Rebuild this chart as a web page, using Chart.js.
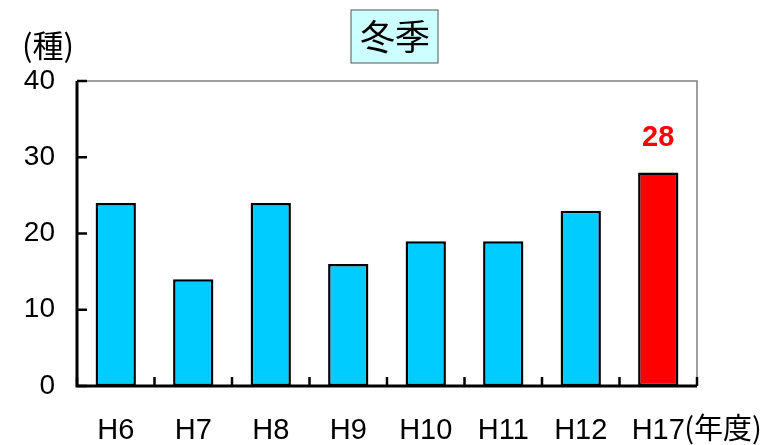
<!DOCTYPE html>
<html>
<head>
<meta charset="utf-8">
<script src="https://cdn.jsdelivr.net/npm/chart.js@4/dist/chart.umd.min.js"></script>
<style>
  html, body { margin: 0; padding: 0; background: #fff; }
  #wrap { width: 780px; height: 445px; }
</style>
</head>
<body>
<div id="wrap"><canvas id="chart" width="780" height="445"></canvas></div>
<script>
const categories = ["H6", "H7", "H8", "H9", "H10", "H11", "H12", "H17"];
const speciesCount = [24, 14, 24, 16, 19, 19, 23, 28];
const yTicks = [0, 10, 20, 30, 40];
const highlightIndex = 7;

const FONT = "'Liberation Sans', 'Noto Sans CJK JP', sans-serif";
const JP_FONT = "'Noto Sans CJK JP', sans-serif";

const barColors = speciesCount.map((v, i) => i === highlightIndex ? "#ff0000" : "#00ccff");

// frame, inside ticks, title box and extra texts
const decorations = {
  id: "decorations",
  afterDraw(chart) {
    const ctx = chart.ctx;
    const area = chart.chartArea;
    const xs = chart.scales.x;
    const ys = chart.scales.y;
    ctx.save();

    // gray top / right border
    ctx.strokeStyle = "#808080";
    ctx.lineWidth = 1.5;
    ctx.beginPath();
    ctx.moveTo(area.left, area.top);
    ctx.lineTo(area.right, area.top);
    ctx.lineTo(area.right, area.bottom);
    ctx.stroke();

    // black axes
    ctx.strokeStyle = "#000";
    ctx.lineWidth = 3;
    ctx.beginPath();
    ctx.moveTo(area.left, area.top);
    ctx.lineTo(area.left, area.bottom);
    ctx.lineTo(area.right, area.bottom);
    ctx.stroke();

    // y ticks (inside)
    ctx.lineWidth = 2.5;
    yTicks.forEach(t => {
      const y = ys.getPixelForValue(t);
      ctx.beginPath();
      ctx.moveTo(area.left, y);
      ctx.lineTo(area.left + 10, y);
      ctx.stroke();
    });
    // x ticks between categories (inside)
    for (let i = 0; i <= categories.length; i++) {
      const x = xs.getPixelForValue(i - 0.5);
      ctx.beginPath();
      ctx.moveTo(x, area.bottom);
      ctx.lineTo(x, area.bottom - 9);
      ctx.stroke();
    }

    // title box
    const cx = (area.left + area.right) / 2 + 7;
    ctx.fillStyle = "#ccffff";
    ctx.fillRect(cx - 43, 10, 87, 53);
    ctx.strokeStyle = "#555";
    ctx.lineWidth = 1;
    ctx.strokeRect(cx - 43, 10, 87, 53);
    ctx.fillStyle = "#000";
    ctx.font = "35px " + JP_FONT;
    ctx.textAlign = "center";
    ctx.textBaseline = "middle";
    ctx.fillText("冬季", cx + 1, 37);

    // unit labels
    ctx.font = "31px " + JP_FONT;
    ctx.textAlign = "left";
    ctx.fillText("(種)", 22, 45);
    const lastX = xs.getPixelForValue(categories.length - 1);
    ctx.font = "29px " + JP_FONT;
    ctx.fillText("(年度)", lastX + 26, 428);

    // value label on highlighted bar
    const bar = chart.getDatasetMeta(0).data[highlightIndex];
    ctx.fillStyle = "#ff0000";
    ctx.font = "bold 29px " + FONT;
    ctx.textAlign = "center";
    ctx.fillText(String(speciesCount[highlightIndex]), bar.x, bar.y - 35);

    ctx.restore();
  }
};

new Chart(document.getElementById("chart"), {
  type: "bar",
  data: {
    labels: categories,
    datasets: [{
      data: speciesCount,
      backgroundColor: barColors,
      borderColor: "#000",
      borderWidth: 2.5,
      borderSkipped: false,
      barPercentage: 0.52,
      categoryPercentage: 1.0
    }]
  },
  options: {
    responsive: false,
    animation: false,
    layout: { padding: { top: 81, right: 83, left: 0, bottom: 0 } },
    plugins: {
      legend: { display: false },
      tooltip: { enabled: false },
      title: { display: false }
    },
    scales: {
      x: {
        grid: { display: false, drawTicks: false },
        border: { display: false },
        ticks: {
          color: "#000",
          font: { family: FONT, size: 29 },
          padding: 28,
          maxRotation: 0
        },
        afterFit(scale) { scale.height = 59; }
      },
      y: {
        min: 0,
        max: 40,
        grid: { display: false, drawTicks: false },
        border: { display: false },
        ticks: {
          stepSize: 10,
          color: "#000",
          font: { family: FONT, size: 28 },
          padding: 22
        },
        afterFit(scale) { scale.width = 77; }
      }
    }
  },
  plugins: [decorations]
});
</script>
</body>
</html>
